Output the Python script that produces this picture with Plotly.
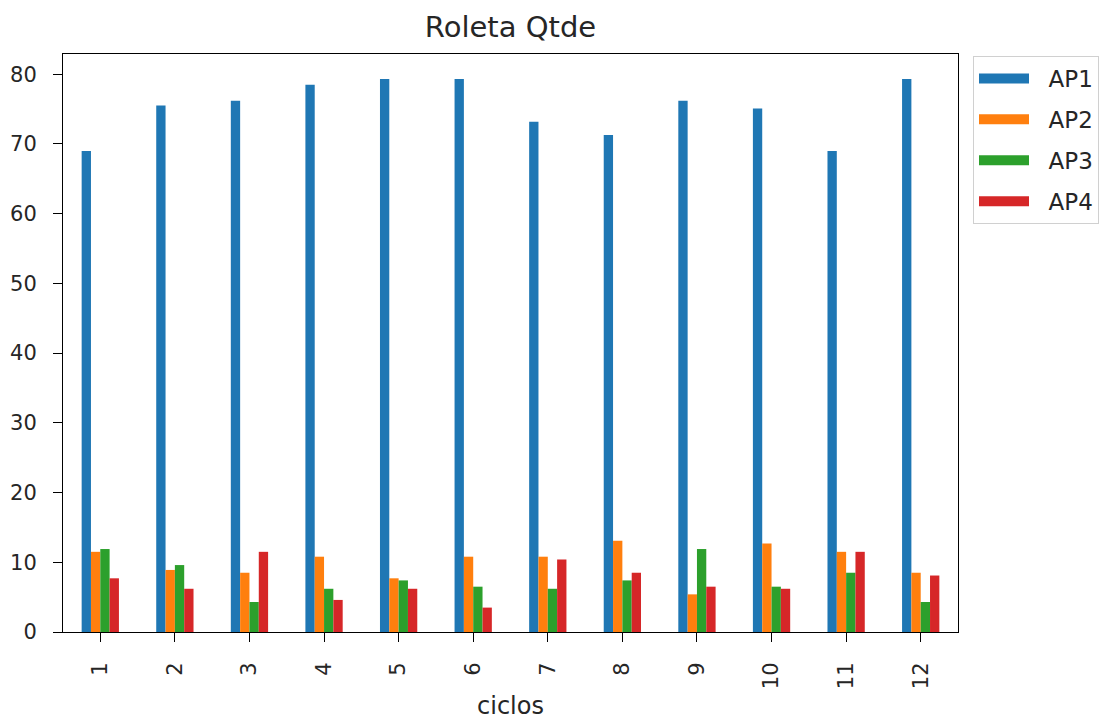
import plotly.graph_objects as go

ciclos = ["1", "2", "3", "4", "5", "6", "7", "8", "9", "10", "11", "12"]
ap1 = [69.0, 75.5, 76.2, 78.5, 79.3, 79.3, 73.2, 71.3, 76.2, 75.1, 69.0, 79.3]
ap2 = [11.5, 8.9, 8.5, 10.8, 7.7, 10.8, 10.8, 13.1, 5.4, 12.7, 11.5, 8.5]
ap3 = [11.9, 9.6, 4.3, 6.2, 7.4, 6.5, 6.2, 7.4, 11.9, 6.5, 8.5, 4.3]
ap4 = [7.7, 6.2, 11.5, 4.6, 6.2, 3.5, 10.4, 8.5, 6.5, 6.2, 11.5, 8.1]

series = [("AP1", ap1, "#1f77b4"), ("AP2", ap2, "#ff7f0e"),
          ("AP3", ap3, "#2ca02c"), ("AP4", ap4, "#d62728")]

TEXT = "#262626"
GAP = "\u00a0\u00a0"  # spacing between legend swatch and label

fig = go.Figure()
for name, vals, color in series:
    fig.add_trace(go.Bar(x=ciclos, y=vals, name=name, marker_color=color,
                         marker_line_width=0, legendgroup=name,
                         showlegend=False))
    # wide rectangular legend swatch
    fig.add_trace(go.Scatter(x=[None], y=[None], mode="lines",
                             name=GAP + name, legendgroup=name,
                             line=dict(color=color, width=18)))

axis_common = dict(showline=True, linecolor="black", linewidth=1, mirror=True,
                   ticks="outside", ticklen=9, tickcolor="black",
                   showgrid=False, zeroline=False, automargin=False,
                   tickfont=dict(size=21, color=TEXT))

fig.update_layout(
    width=1111, height=720,
    paper_bgcolor="white", plot_bgcolor="white",
    font=dict(family="DejaVu Sans", color=TEXT),
    barmode="group", bargap=0.5, bargroupgap=0,
    margin=dict(l=63, r=153, t=54, b=88),
    title=dict(text="Roleta Qtde", x=(63 + 958) / 2 / 1111, xanchor="center",
               y=1 - 27 / 720, yanchor="middle", font=dict(size=29, color=TEXT)),
    xaxis=dict(title=dict(text="ciclos", font=dict(size=24, color=TEXT),
                          standoff=10),
               tickangle=-90, range=[-0.5, 11.5], ticklabelstandoff=12,
               **axis_common),
    yaxis=dict(range=[0, 82.9], tickvals=[0, 10, 20, 30, 40, 50, 60, 70, 80],
               ticklabelstandoff=12, **axis_common),
    legend=dict(xref="container", yref="container",
                x=973 / 1111, y=1 - 56 / 720, xanchor="left", yanchor="top",
                bordercolor="#d0d0d0", borderwidth=1,
                font=dict(size=23, color=TEXT), tracegroupgap=8,
                itemwidth=50),
)

fig.write_html("out.html")
